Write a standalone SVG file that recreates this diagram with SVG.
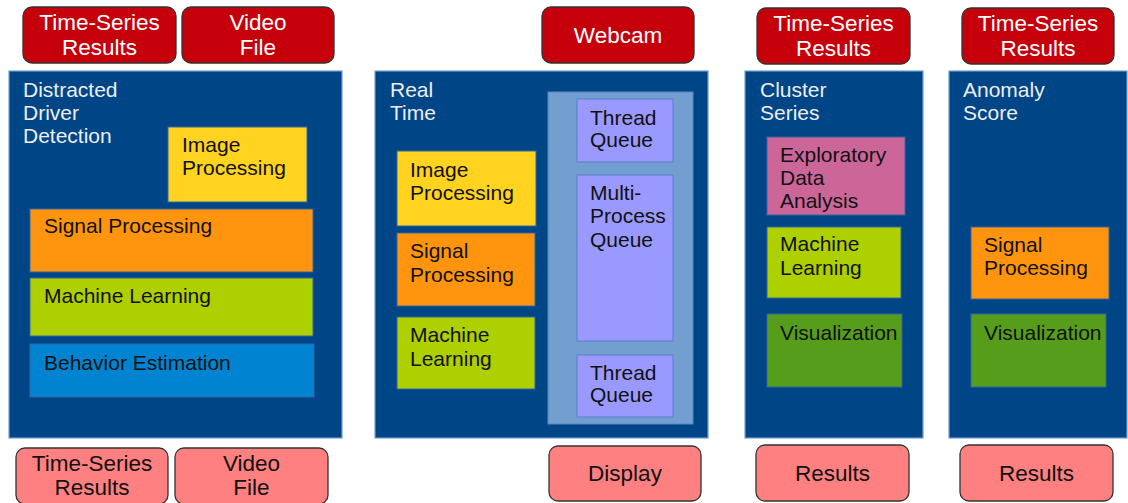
<svg xmlns="http://www.w3.org/2000/svg" width="1128" height="503" viewBox="0 0 1128 503">
  <style>
    text { font-family: "Liberation Sans", Arial, sans-serif; font-size: 21px; fill: #111111; }
    .panel { fill: #004586; stroke: #729fcf; stroke-width: 1.2; }
    .title { fill: #eeeeee; }
    .src { fill: #c5000b; stroke: #333333; stroke-width: 1.3; }
    .src-t { fill: #ffffff; text-anchor: middle; font-size: 22.5px; }
    .out { fill: #ff8080; stroke: #333333; stroke-width: 1.3; }
    .out-t { text-anchor: middle; font-size: 22.5px; }
    .img { fill: #ffd320; stroke: #3465a4; stroke-width: 1; }
    .sig { fill: #ff950e; stroke: #3465a4; stroke-width: 1; }
    .ml { fill: #aecf00; stroke: #3465a4; stroke-width: 1; }
    .beh { fill: #0084d1; stroke: #3465a4; stroke-width: 1; }
    .viz { fill: #579d1c; stroke: #3465a4; stroke-width: 1; }
    .eda { fill: #cc6699; stroke: #3465a4; stroke-width: 1; }
    .queues { fill: #729fcf; stroke: #5b86c0; stroke-width: 1; }
    .q { fill: #9999ff; stroke: #5b7fc8; stroke-width: 1; }
  </style>

  <!-- Column 1: Distracted Driver Detection -->
  <g id="dd-in-ts">
    <rect class="src" x="23" y="7" width="153" height="56" rx="9"/>
    <text class="src-t" x="99.5" y="30">Time-Series</text>
    <text class="src-t" x="99.5" y="55">Results</text>
  </g>
  <g id="dd-in-video">
    <rect class="src" x="182" y="7" width="152" height="56" rx="9"/>
    <text class="src-t" x="258" y="30">Video</text>
    <text class="src-t" x="258" y="55">File</text>
  </g>
  <g id="dd-panel">
    <rect class="panel" x="9" y="71" width="333" height="367"/>
    <text class="title" x="23" y="97">Distracted</text>
    <text class="title" x="23" y="120">Driver</text>
    <text class="title" x="23" y="143">Detection</text>
  </g>
  <g id="dd-image">
    <rect class="img" x="168" y="127" width="139" height="75"/>
    <text x="182" y="152">Image</text>
    <text x="182" y="175">Processing</text>
  </g>
  <g id="dd-signal">
    <rect class="sig" x="30" y="209" width="283" height="63"/>
    <text x="44" y="233">Signal Processing</text>
  </g>
  <g id="dd-ml">
    <rect class="ml" x="30" y="278" width="283" height="58"/>
    <text x="44" y="303">Machine Learning</text>
  </g>
  <g id="dd-behavior">
    <rect class="beh" x="30" y="344" width="284" height="53"/>
    <text x="44" y="370">Behavior Estimation</text>
  </g>
  <g id="dd-out-ts">
    <rect class="out" x="16" y="448" width="152" height="56" rx="9"/>
    <text class="out-t" x="92" y="471">Time-Series</text>
    <text class="out-t" x="92" y="495">Results</text>
  </g>
  <g id="dd-out-video">
    <rect class="out" x="175" y="448" width="153" height="56" rx="9"/>
    <text class="out-t" x="251.5" y="471">Video</text>
    <text class="out-t" x="251.5" y="495">File</text>
  </g>

  <!-- Column 2: Real Time -->
  <g id="rt-webcam">
    <rect class="src" x="542" y="7" width="152" height="56" rx="9"/>
    <text class="src-t" x="618" y="43">Webcam</text>
  </g>
  <g id="rt-panel">
    <rect class="panel" x="375" y="71" width="333" height="367"/>
    <text class="title" x="390" y="97">Real</text>
    <text class="title" x="390" y="120">Time</text>
  </g>
  <g id="rt-queues">
    <rect class="queues" x="548" y="92" width="145" height="332"/>
  </g>
  <g id="rt-thread-q1">
    <rect class="q" x="577" y="99" width="96" height="63"/>
    <text x="590" y="125">Thread</text>
    <text x="590" y="147">Queue</text>
  </g>
  <g id="rt-mp-queue">
    <rect class="q" x="577" y="175" width="96" height="166"/>
    <text x="590" y="200">Multi-</text>
    <text x="590" y="223">Process</text>
    <text x="590" y="247">Queue</text>
  </g>
  <g id="rt-thread-q2">
    <rect class="q" x="577" y="355" width="96" height="62"/>
    <text x="590" y="380">Thread</text>
    <text x="590" y="402">Queue</text>
  </g>
  <g id="rt-image">
    <rect class="img" x="397" y="151" width="139" height="75"/>
    <text x="410" y="177">Image</text>
    <text x="410" y="200">Processing</text>
  </g>
  <g id="rt-signal">
    <rect class="sig" x="397" y="233" width="138" height="73"/>
    <text x="410" y="258">Signal</text>
    <text x="410" y="282">Processing</text>
  </g>
  <g id="rt-ml">
    <rect class="ml" x="397" y="317" width="138" height="72"/>
    <text x="410" y="342">Machine</text>
    <text x="410" y="366">Learning</text>
  </g>
  <g id="rt-display">
    <rect class="out" x="549" y="446" width="152" height="55" rx="9"/>
    <text class="out-t" x="625" y="481">Display</text>
  </g>

  <!-- Column 3: Cluster Series -->
  <g id="cs-in-ts">
    <rect class="src" x="757" y="8" width="153" height="56" rx="9"/>
    <text class="src-t" x="833.5" y="31">Time-Series</text>
    <text class="src-t" x="833.5" y="56">Results</text>
  </g>
  <g id="cs-panel">
    <rect class="panel" x="745" y="71" width="178" height="367"/>
    <text class="title" x="760" y="97">Cluster</text>
    <text class="title" x="760" y="120">Series</text>
  </g>
  <g id="cs-eda">
    <rect class="eda" x="767" y="137" width="138" height="78"/>
    <text x="780" y="162">Exploratory</text>
    <text x="780" y="185">Data</text>
    <text x="780" y="208">Analysis</text>
  </g>
  <g id="cs-ml">
    <rect class="ml" x="767" y="227" width="134" height="71"/>
    <text x="780" y="251">Machine</text>
    <text x="780" y="275">Learning</text>
  </g>
  <g id="cs-viz">
    <rect class="viz" x="767" y="314" width="135" height="73"/>
    <text x="780" y="340">Visualization</text>
  </g>
  <g id="cs-results">
    <rect class="out" x="756" y="445" width="153" height="56" rx="9"/>
    <text class="out-t" x="832.5" y="481">Results</text>
  </g>

  <!-- Column 4: Anomaly Score -->
  <g id="as-in-ts">
    <rect class="src" x="962" y="8" width="152" height="56" rx="9"/>
    <text class="src-t" x="1038" y="31">Time-Series</text>
    <text class="src-t" x="1038" y="56">Results</text>
  </g>
  <g id="as-panel">
    <rect class="panel" x="949" y="71" width="178" height="367"/>
    <text class="title" x="963" y="97">Anomaly</text>
    <text class="title" x="963" y="120">Score</text>
  </g>
  <g id="as-signal">
    <rect class="sig" x="971" y="227" width="138" height="72"/>
    <text x="984" y="252">Signal</text>
    <text x="984" y="275">Processing</text>
  </g>
  <g id="as-viz">
    <rect class="viz" x="971" y="314" width="135" height="73"/>
    <text x="984" y="340">Visualization</text>
  </g>
  <g id="as-results">
    <rect class="out" x="960" y="445" width="153" height="56" rx="9"/>
    <text class="out-t" x="1036.5" y="481">Results</text>
  </g>

  <!-- No connectors are drawn between the nodes -->
  <g id="connectors"/>
</svg>
